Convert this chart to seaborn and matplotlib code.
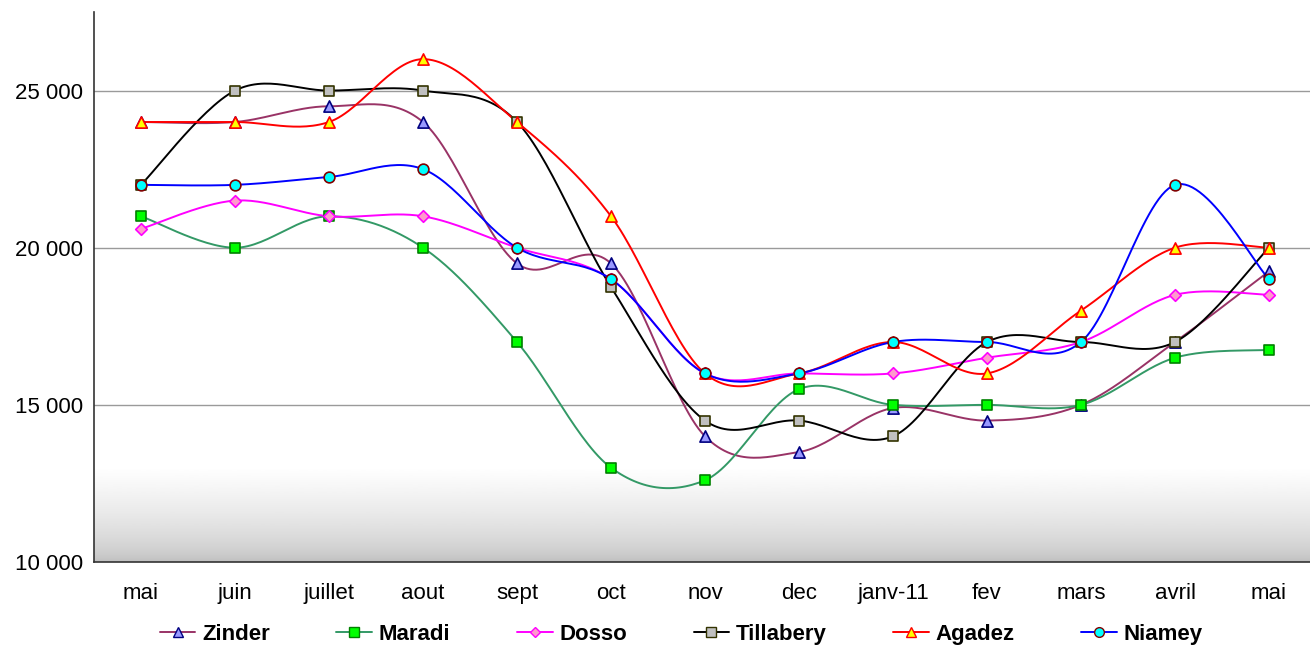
import numpy as np
import pandas as pd
import seaborn as sns
import matplotlib.pyplot as plt
from matplotlib.lines import Line2D

# data
months = ['mai', 'juin', 'juillet', 'aout', 'sept', 'oct', 'nov', 'dec',
          'janv-11', 'fev', 'mars', 'avril', 'mai']
zinder = [24000, 24000, 24500, 24000, 19500, 19500, 14000, 13500, 14900, 14500, 15000, 17000, 19250]
maradi = [21000, 20000, 21000, 20000, 17000, 13000, 12600, 15500, 15000, 15000, 15000, 16500, 16750]
dosso = [20600, 21500, 21000, 21000, 20000, 19000, 16000, 16000, 16000, 16500, 17000, 18500, 18500]
tillabery = [22000, 25000, 25000, 25000, 24000, 18750, 14500, 14500, 14000, 17000, 17000, 17000, 20000]
agadez = [24000, 24000, 24000, 26000, 24000, 21000, 16000, 16000, 17000, 16000, 18000, 20000, 20000]
niamey = [22000, 22000, 22250, 22500, 20000, 19000, 16000, 16000, 17000, 17000, 17000, 22000, 19000]

series = {'Zinder': zinder, 'Maradi': maradi, 'Dosso': dosso,
          'Tillabery': tillabery, 'Agadez': agadez, 'Niamey': niamey}

# line colour, marker, face, edge
styles = {
    'Zinder': ('#993366', '^', '#9999FF', '#000080'),
    'Maradi': ('#339966', 's', '#00FF00', '#008000'),
    'Dosso': ('#FF00FF', 'D', '#FF99CC', '#FF00FF'),
    'Tillabery': ('#000000', 's', '#C0C0C0', '#333300'),
    'Agadez': ('#FF0000', '^', '#FFFF00', '#FF0000'),
    'Niamey': ('#0000FF', 'o', '#00FFFF', '#800000'),
}
marker_size = {'^': 65, 's': 55, 'D': 35, 'o': 60}


def smooth(y, n=30):
    # Excel-style smoothed line: cubic bezier with catmull-rom control points
    x = np.arange(len(y), dtype=float)
    y = np.asarray(y, dtype=float)
    xs, ys = [], []
    t = np.linspace(0, 1, n)
    for i in range(len(y) - 1):
        p0 = np.array([x[max(i - 1, 0)], y[max(i - 1, 0)]])
        p1 = np.array([x[i], y[i]])
        p2 = np.array([x[i + 1], y[i + 1]])
        p3 = np.array([x[min(i + 2, len(y) - 1)], y[min(i + 2, len(y) - 1)]])
        c1 = p1 + (p2 - p0) / 6
        c2 = p2 - (p3 - p1) / 6
        pts = ((1 - t) ** 3)[:, None] * p1 + (3 * (1 - t) ** 2 * t)[:, None] * c1 \
            + (3 * (1 - t) * t ** 2)[:, None] * c2 + (t ** 3)[:, None] * p2
        xs.extend(pts[:, 0])
        ys.extend(pts[:, 1])
    return np.array(xs), np.array(ys)


sns.set_style('white')
plt.rcParams['font.family'] = ['Liberation Sans', 'DejaVu Sans']
plt.rcParams['text.color'] = 'black'
plt.rcParams['xtick.color'] = 'black'
plt.rcParams['ytick.color'] = 'black'

fig = plt.figure(figsize=(13.1, 6.49), dpi=100)
ax = fig.add_axes([94 / 1310, 87 / 649, 1222 / 1310, 550 / 649])

# grey gradient at the bottom of the plot area
grad = np.linspace(0, 1, 200) ** 0.6
grad = 0.74 + 0.26 * grad
ax.imshow(grad[:, None], extent=[-0.5, 12.5, 10000, 13000], origin='lower',
          cmap='gray', vmin=0, vmax=1, aspect='auto', zorder=0)

for v in [15000, 20000, 25000]:
    ax.axhline(v, color='#9a9a9a', lw=1, zorder=1)

idx = np.arange(len(months))
for name, vals in series.items():
    lc, mk, fc, ec = styles[name]
    sx, sy = smooth(vals)
    sns.lineplot(x=sx, y=sy, color=lc, lw=1.4, sort=False, ax=ax, zorder=3)
    sns.scatterplot(x=idx, y=vals, marker=mk, color=fc, edgecolor=ec,
                    s=marker_size[mk], linewidth=1.2, ax=ax, zorder=4)

ax.set_xlim(-0.5, 12.5)
ax.set_ylim(10000, 27500)
ax.set_yticks([10000, 15000, 20000, 25000])
ax.set_yticklabels(['10 000', '15 000', '20 000', '25 000'], fontsize=16)
ax.set_xticks(np.arange(-0.5, 13, 1))
ax.set_xticklabels([])
ax.set_xticks(idx, minor=True)
ax.set_xticklabels(months, minor=True, fontsize=16)
ax.tick_params(axis='x', which='major', length=6, width=1, color='#333333', direction='out')
ax.tick_params(axis='x', which='minor', length=0, pad=15)
ax.tick_params(axis='y', length=6, width=1, color='#333333', direction='out', pad=2)
for s in ['top', 'right']:
    ax.spines[s].set_visible(False)
for s in ['left', 'bottom']:
    ax.spines[s].set_color('#333333')
    ax.spines[s].set_linewidth(1.2)
ax.set_xlabel('')
ax.set_ylabel('')

handles = []
for name in series:
    lc, mk, fc, ec = styles[name]
    handles.append(Line2D([0], [0], color=lc, lw=1.4, marker=mk, markerfacecolor=fc,
                          markeredgecolor=ec, markersize=7 if mk != 'D' else 5))
leg = fig.legend(handles, list(series.keys()), loc='lower center', ncol=6,
                 bbox_to_anchor=(0.52, -0.024), frameon=False, handlelength=1.6,
                 handletextpad=0.3, columnspacing=3.0,
                 prop={'weight': 'bold', 'size': 16})

fig.savefig('out.png', dpi=100)
